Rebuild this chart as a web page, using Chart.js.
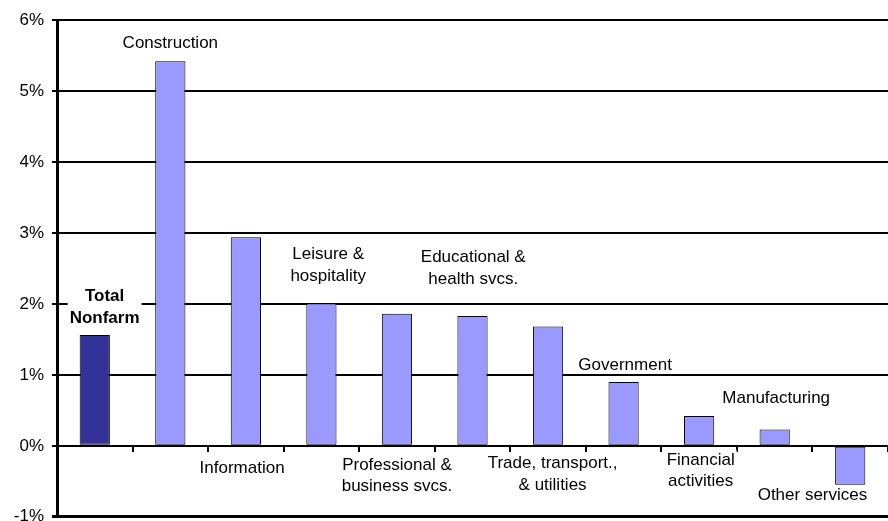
<!DOCTYPE html>
<html>
<head>
<meta charset="utf-8">
<script src="https://cdn.jsdelivr.net/npm/chart.js@4/dist/chart.umd.min.js"></script>
<style>
  html, body { margin: 0; padding: 0; background: #fff; overflow: hidden; }
  #wrap { position: relative; width: 888px; height: 535px; }
</style>
</head>
<body>
<div id="wrap"><canvas id="grafico"></canvas></div>
<script>
// categorias e valores (% de variação)
const categorias = [
  "Total Nonfarm", "Construction", "Information", "Leisure & hospitality",
  "Professional & business svcs.", "Educational & health svcs.",
  "Trade, transport., & utilities", "Government", "Financial activities",
  "Manufacturing", "Other services"
];
const valores = [1.56, 5.42, 2.94, 2.01, 1.86, 1.83, 1.68, 0.90, 0.42, 0.23, -0.55];
const rotulos = [
  ["Total", "Nonfarm"], ["Construction"], ["Information"], ["Leisure &", "hospitality"],
  ["Professional &", "business svcs."], ["Educational &", "health svcs."],
  ["Trade, transport.,", "& utilities"], ["Government"], ["Financial", "activities"],
  ["Manufacturing"], ["Other services"]
];
const yTicks = [-1, 0, 1, 2, 3, 4, 5, 6];

// onde cada rótulo fica (índice da categoria, valor em %)
const posRotulos = [
  { x: 0.13, y: 1.95, bold: true },
  { x: 1.0, y: 5.67 },
  { x: 1.95, y: -0.32 },
  { x: 3.09, y: 2.54 },
  { x: 4.0, y: -0.42 },
  { x: 5.01, y: 2.50 },
  { x: 6.06, y: -0.40 },
  { x: 7.02, y: 1.14 },
  { x: 8.02, y: -0.35 },
  { x: 9.02, y: 0.67 },
  { x: 9.5, y: -0.70 }
];

const cores = valores.map((v, i) => i === 0 ? "#333399" : "#9999FF");

const rotulosPlugin = {
  id: "rotulos",
  afterDatasetsDraw(chart) {
    const ctx = chart.ctx;
    const xs = chart.scales.x, ys = chart.scales.y;
    const lh = 21.5;
    ctx.save();
    posRotulos.forEach((p, i) => {
      const linhas = rotulos[i];
      ctx.font = (p.bold ? "bold " : "") + "17px 'Liberation Sans', Arial, sans-serif";
      const cx = xs.getPixelForValue(p.x);
      const cy = ys.getPixelForValue(p.y);
      const larg = Math.max(...linhas.map(l => ctx.measureText(l).width));
      const alt = linhas.length * lh;
      ctx.fillStyle = "#fff";
      ctx.fillRect(cx - larg / 2 - 2, cy - alt / 2 + 1, larg + 4, alt - 3);
      ctx.fillStyle = "#000";
      ctx.textAlign = "center";
      ctx.textBaseline = "middle";
      linhas.forEach((l, k) => {
        ctx.fillText(l, cx, cy - alt / 2 + lh * (k + 0.5));
      });
    });
    ctx.restore();
  }
};

new Chart(document.getElementById("grafico"), {
  type: "bar",
  data: {
    labels: categorias,
    datasets: [{
      data: valores,
      backgroundColor: cores,
      borderColor: "#000",
      borderWidth: 1,
      borderSkipped: false,
      categoryPercentage: 1,
      barPercentage: 0.4
    }]
  },
  options: {
    responsive: true,
    maintainAspectRatio: false,
    animation: false,
    layout: { padding: { top: 20, bottom: 14, left: 0, right: 0 } },
    plugins: {
      legend: { display: false },
      tooltip: { enabled: false }
    },
    scales: {
      x: {
        type: "category",
        position: { y: 0 },
        grid: {
          offset: true,
          drawOnChartArea: false,
          drawTicks: true,
          tickLength: 6,
          color: "#000",
          lineWidth: 2
        },
        border: { display: false },
        ticks: { display: false }
      },
      y: {
        min: -1,
        max: 6,
        afterBuildTicks: scale => { scale.ticks = yTicks.map(v => ({ value: v })); },
        afterFit: scale => { scale.width = 57; },
        grid: {
          color: "#000",
          lineWidth: c => (c.tick && c.tick.value === -1) ? 3 : 2,
          tickLength: 5
        },
        border: { display: true, color: "#000", width: 3 },
        ticks: {
          color: "#000",
          padding: 8,
          font: { family: "'Liberation Sans', Arial, sans-serif", size: 17 },
          callback: v => v + "%"
        }
      }
    }
  },
  plugins: [rotulosPlugin]
});
</script>
</body>
</html>
